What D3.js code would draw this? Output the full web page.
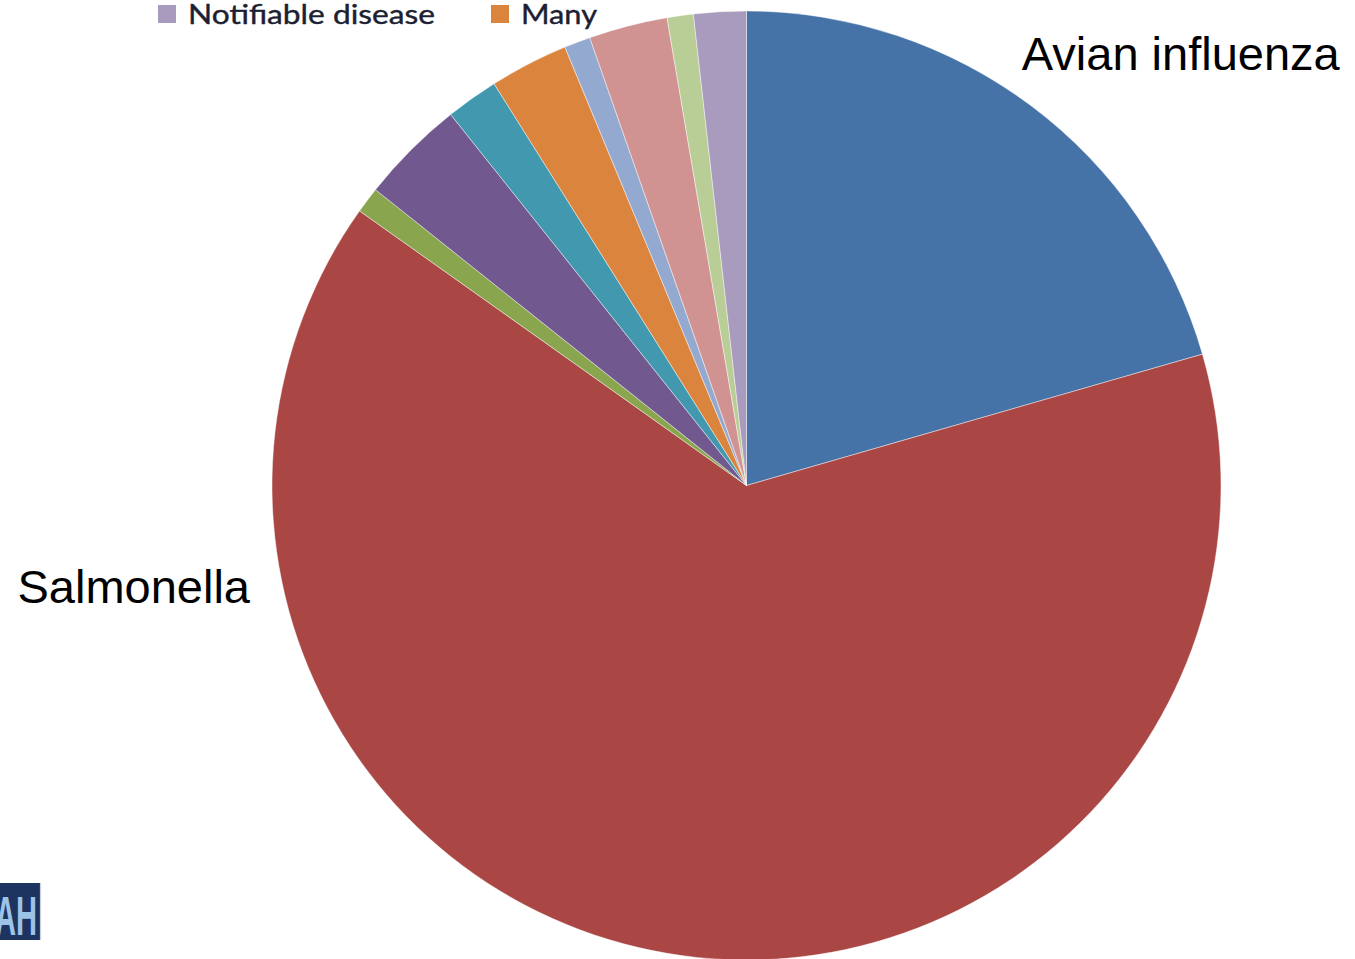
<!DOCTYPE html>
<html>
<head>
<meta charset="utf-8">
<script src="https://cdn.jsdelivr.net/npm/d3@7"></script>
<style>
  html, body { margin: 0; padding: 0; background: #fff; }
  svg { display: block; }
</style>
</head>
<body>
<svg id="chart" width="1355" height="959"></svg>
<script>
// Reported cases by disease category (count of reports)
const categories = [
  "Avian influenza", "Salmonella", "Mycoplasma", "Newcastle disease",
  "Infectious bronchitis", "Many", "Marek's disease", "Other",
  "Unknown", "Notifiable disease"
];
const counts = [23, 72, 1, 4, 2, 3, 1, 3, 1, 2];
const colors = [
  "#4572A7", "#AA4643", "#89A54E", "#71588F", "#4198AF",
  "#DB843D", "#93A9CF", "#D19392", "#B9CD96", "#A99BBD"
];
// Visible part of the legend row
const legendItems = ["Notifiable disease", "Many"];
// Categories that carry a text label beside the pie
const labelled = ["Avian influenza", "Salmonella"];

const W = 1355, H = 959;
const cx = 746.5, cy = 485.5, R = 474.5;

const svg = d3.select("#chart");

const color = d3.scaleOrdinal().domain(categories).range(colors);
const data = categories.map((c, i) => ({ name: c, value: counts[i] }));

const pie = d3.pie().sort(null).value(d => d.value);
const arc = d3.arc().innerRadius(0).outerRadius(R);
const arcs = pie(data);

const g = svg.append("g").attr("transform", `translate(${cx},${cy})`);
g.selectAll("path.slice")
  .data(arcs)
  .enter().append("path")
  .attr("class", "slice")
  .attr("d", arc)
  .attr("fill", d => color(d.data.name))
  .attr("stroke", "#ffffff")
  .attr("stroke-opacity", 0.55)
  .attr("stroke-width", 0.8);

// Slice labels: Avian influenza sits above-right of its slice's rim point,
// Salmonella sits left of the pie at the height of the lower-left rim.
const labelArc = d3.arc().innerRadius(R).outerRadius(R);
arcs.filter(a => labelled.includes(a.data.name)).forEach(a => {
  const name = a.data.name;
  const [lx] = labelArc.centroid(a);
  const isLeft = name === "Salmonella";
  g.append("text")
    .attr("x", isLeft ? -R - 22 : lx - 10)
    .attr("y", isLeft ? 603 - cy : 70 - cy)
    .attr("text-anchor", isLeft ? "end" : "start")
    .attr("font-family", "'Liberation Sans', Arial, sans-serif")
    .attr("font-size", 47)
    .attr("fill", "#000")
    .text(name);
});

// Legend row (partially visible at the top edge)
const legendX = { "Notifiable disease": 158, "Many": 491 };
const legendLen = { "Notifiable disease": 247, "Many": 76 };
const legend = svg.append("g");
legendItems.forEach(name => {
  const x = legendX[name];
  legend.append("rect")
    .attr("x", x).attr("y", 5)
    .attr("width", 18).attr("height", 18)
    .attr("fill", color(name));
  legend.append("text")
    .attr("x", x + 30).attr("y", 24)
    .attr("font-family", "Lato, 'Open Sans', sans-serif")
    .attr("font-size", 27)
    .attr("textLength", legendLen[name])
    .attr("lengthAdjust", "spacingAndGlyphs")
    .attr("fill", "#1c1f33")
    .attr("stroke", "#1c1f33")
    .attr("stroke-width", 0.4)
    .text(name);
});

// Logo badge in the lower-left corner
const logo = svg.append("g");
logo.append("defs").append("clipPath").attr("id", "logoClip")
  .append("rect").attr("x", 0).attr("y", 883).attr("width", 40).attr("height", 57);
logo.append("rect")
  .attr("x", 0).attr("y", 883).attr("width", 40).attr("height", 57)
  .attr("fill", "#1d3461");
logo.append("line")
  .attr("x1", 40.5).attr("x2", 40.5).attr("y1", 883).attr("y2", 940)
  .attr("stroke", "#c9cfdb").attr("stroke-width", 1.2);
logo.append("g").attr("clip-path", "url(#logoClip)")
  .append("text")
  .attr("transform", "translate(37,935) scale(0.52,1)")
  .attr("text-anchor", "end")
  .attr("font-family", "'Liberation Sans', Arial, sans-serif")
  .attr("font-weight", "bold")
  .attr("font-size", 56)
  .attr("fill", "#9dc3e6")
  .text("AH");
</script>
</body>
</html>
